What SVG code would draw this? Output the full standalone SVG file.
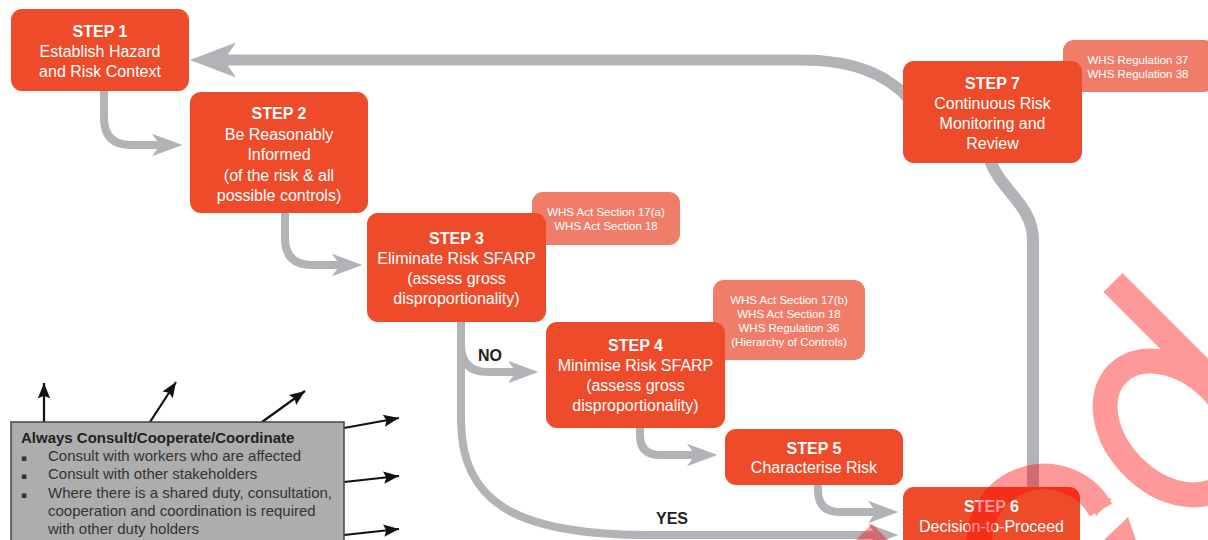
<svg xmlns="http://www.w3.org/2000/svg" width="1208" height="540" viewBox="0 0 1208 540">
<style>
.step rect{fill:#EE4B2A}
.note rect{fill:#F07D69}
.t{font-family:"Liberation Sans",Arial,sans-serif;font-size:16px;fill:#fff;text-anchor:middle}
.h{font-weight:bold}
.n{font-family:"Liberation Sans",Arial,sans-serif;font-size:11.5px;fill:#fff;text-anchor:middle}
.lbl{font-family:"Liberation Sans",Arial,sans-serif;font-size:16px;font-weight:bold;fill:#222;text-anchor:middle}
.c{font-family:"Liberation Sans",Arial,sans-serif;font-size:15px;fill:#333}
.bul{font-family:"DejaVu Sans",sans-serif;font-size:9px;fill:#333}
.g{fill:none;stroke:#B1B3B7;stroke-width:8}
.k{fill:none;stroke:#111;stroke-width:2.2}
</style>
<defs>
<marker id="ga" viewBox="0 -2 5 4" refX="1" refY="0" markerWidth="5" markerHeight="4" orient="auto" markerUnits="strokeWidth"><path d="M0,-1.4 L3.8,0 L0,1.4 L1,0 Z" fill="#B1B3B7"/></marker>
<marker id="gb" viewBox="0 -2 5 4" refX="1.1" refY="0" markerWidth="5" markerHeight="4" orient="auto" markerUnits="strokeWidth"><path d="M0,-1.6 L4.2,0 L0,1.6 L1.1,0 Z" fill="#B1B3B7"/></marker>
<marker id="ka" viewBox="0 -4 8 8" refX="7" refY="0" markerWidth="8" markerHeight="8" orient="auto" markerUnits="strokeWidth"><path d="M0,-2.8 L7,0 L0,2.8 L1.2,0 Z" fill="#111"/></marker>
</defs>
<rect width="1208" height="540" fill="#fff"/>

<g id="connectors">
<path class="g" d="M104,91 V118 Q104,145 131,145 H160" marker-end="url(#ga)"/>
<path class="g" d="M285,213 V238 Q285,265 312,265 H340" marker-end="url(#ga)"/>
<path class="g" d="M461,322 V345 Q461,372 488,372 H516" marker-end="url(#ga)"/>
<path class="g" d="M461,322 V420 C461,505 520,535 650,535 H876" marker-end="url(#ga)"/>
<path class="g" d="M640,428 V435 Q640,455 660,455 H695" marker-end="url(#ga)"/>
<path class="g" d="M818,485 V490 Q818,512 840,512 H876" marker-end="url(#ga)"/>
<path class="g" style="stroke-width:12" d="M1033,492 V240 C1033,205 1000,190 990,160"/>
<path class="g" style="stroke-width:11" d="M910,100 C885,72 850,60 800,60 H224" marker-end="url(#gb)"/>
<path class="k" d="M44,422 L44,383" marker-end="url(#ka)"/>
<path class="k" d="M150,422 L176,382" marker-end="url(#ka)"/>
<path class="k" d="M262,422 L305,391" marker-end="url(#ka)"/>
<path class="k" d="M344,428 L399,418" marker-end="url(#ka)"/>
<path class="k" d="M344,482 L399,476" marker-end="url(#ka)"/>
<path class="k" d="M344,535 L399,529" marker-end="url(#ka)"/>
<text class="lbl" x="490" y="361">NO</text>
<text class="lbl" x="672" y="524">YES</text>
</g>

<g id="note3" class="note"><rect x="532" y="192" width="148" height="53" rx="11"/>
<text class="n" x="606" y="216">WHS Act Section 17(a)</text>
<text class="n" x="606" y="230">WHS Act Section 18</text></g>
<g id="note4" class="note"><rect x="713" y="280" width="152" height="80" rx="11"/>
<text class="n" x="789" y="304">WHS Act Section 17(b)</text>
<text class="n" x="789" y="318">WHS Act Section 18</text>
<text class="n" x="789" y="332">WHS Regulation 36</text>
<text class="n" x="789" y="346">(Hierarchy of Controls)</text></g>
<g id="note7" class="note"><rect x="1063" y="40" width="152" height="52" rx="11"/>
<text class="n" x="1138" y="64">WHS Regulation 37</text>
<text class="n" x="1138" y="77.5">WHS Regulation 38</text></g>

<g id="step1" class="step"><rect x="11" y="9" width="178" height="82" rx="11"/>
<text class="t h" x="100" y="37">STEP 1</text>
<text class="t" x="100" y="57">Establish Hazard</text>
<text class="t" x="100" y="77">and Risk Context</text></g>
<g id="step2" class="step"><rect x="190" y="92" width="178" height="121" rx="11"/>
<text class="t h" x="279" y="119">STEP 2</text>
<text class="t" x="279" y="139.5">Be Reasonably</text>
<text class="t" x="279" y="160">Informed</text>
<text class="t" x="279" y="180.5">(of the risk &amp; all</text>
<text class="t" x="279" y="201">possible controls)</text></g>
<g id="step3" class="step"><rect x="367" y="213" width="179" height="109" rx="11"/>
<text class="t h" x="456.5" y="244">STEP 3</text>
<text class="t" x="456.5" y="264">Eliminate Risk SFARP</text>
<text class="t" x="456.5" y="284">(assess gross</text>
<text class="t" x="456.5" y="304">disproportionality)</text></g>
<g id="step4" class="step"><rect x="546" y="322" width="179" height="106" rx="11"/>
<text class="t h" x="635.5" y="351">STEP 4</text>
<text class="t" x="635.5" y="371">Minimise Risk SFARP</text>
<text class="t" x="635.5" y="391">(assess gross</text>
<text class="t" x="635.5" y="411">disproportionality)</text></g>
<g id="step5" class="step"><rect x="725" y="429" width="178" height="56" rx="11"/>
<text class="t h" x="814" y="453.5">STEP 5</text>
<text class="t" x="814" y="473">Characterise Risk</text></g>
<g id="step6" class="step"><rect x="903" y="487" width="177" height="80" rx="11"/>
<text class="t h" x="991.5" y="511.5">STEP 6</text>
<text class="t" x="991.5" y="531.5">Decision-to-Proceed</text></g>
<g id="step7" class="step"><rect x="903" y="61" width="179" height="102" rx="11"/>
<text class="t h" x="992.5" y="89">STEP 7</text>
<text class="t" x="992.5" y="109">Continuous Risk</text>
<text class="t" x="992.5" y="129">Monitoring and</text>
<text class="t" x="992.5" y="149">Review</text></g>

<g id="consult"><rect x="11" y="422" width="333" height="140" fill="#ADADAD" stroke="#444" stroke-width="1.5"/>
<text class="c" x="21" y="443" style="font-weight:bold;fill:#222">Always Consult/Cooperate/Coordinate</text>
<text class="bul" x="21" y="461">▪</text>
<text class="c" x="48" y="461">Consult with workers who are affected</text>
<text class="bul" x="21" y="479">▪</text>
<text class="c" x="48" y="479">Consult with other stakeholders</text>
<text class="bul" x="21" y="498">▪</text>
<text class="c" x="48" y="498">Where there is a shared duty, consultation,</text>
<text class="c" x="48" y="516">cooperation and coordination is required</text>
<text class="c" x="48" y="534">with other duty holders</text></g>

<g id="watermark" opacity="0.4">
<g fill="none" stroke="#FF0000" stroke-width="26">
<line x1="1113" y1="282.5" x2="1260" y2="429.5" stroke-width="27"/>
<ellipse cx="1172" cy="428" rx="77" ry="55" transform="rotate(45 1172 428)" stroke-width="25"/>
<path d="M982,559 A64.75,64.75 0 0 1 1101,510" stroke-width="25.5"/>
</g>
<polygon points="1088,492 1112,499 1096,516" fill="#FF0000"/>
<polygon points="856,540 872,524 888,540" fill="#FF0000"/>
<polygon points="1104,540 1128,517 1136,540" fill="#FF0000"/>
</g>
</svg>
